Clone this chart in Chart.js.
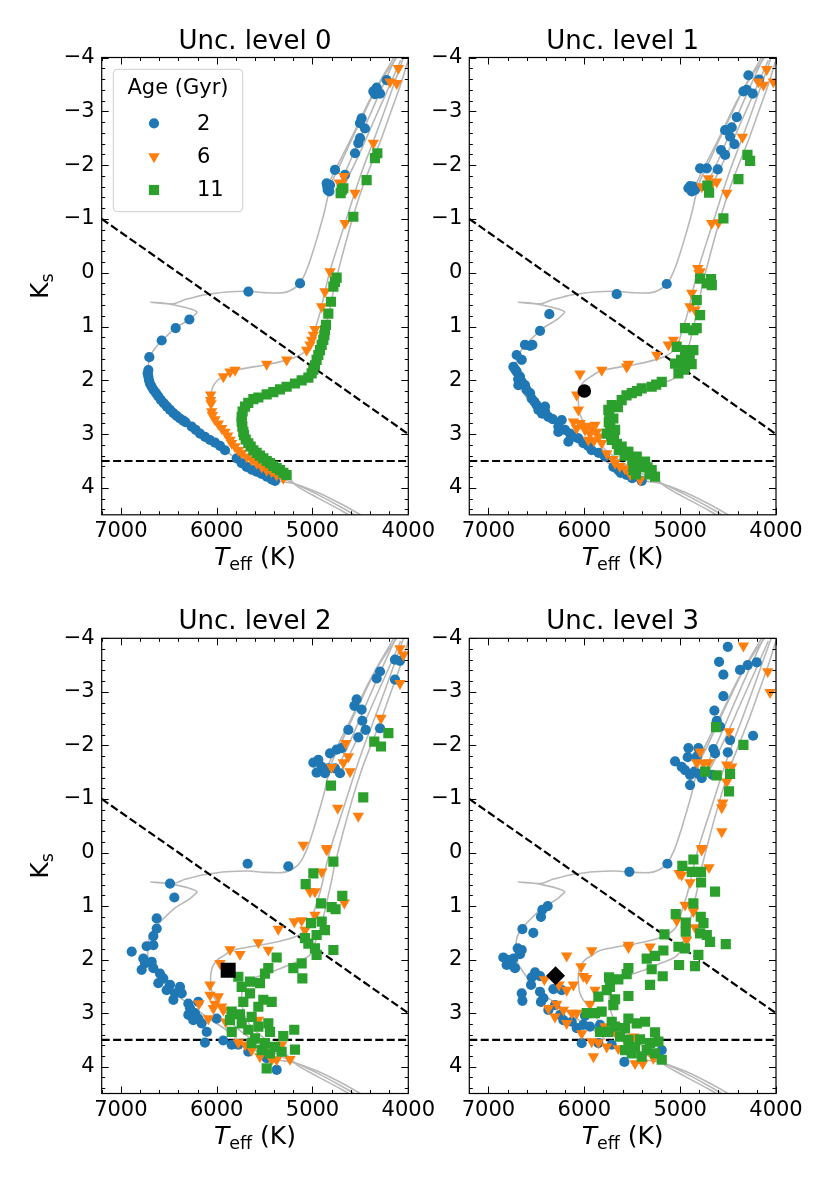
<!doctype html>
<html>
<head>
<meta charset="utf-8">
<title>Unc. levels - Ks vs Teff</title>
<style>
  html, body { margin: 0; padding: 0; background: #fff; }
  body { width: 830px; height: 1186px; position: relative; overflow: hidden; }
  canvas { position: absolute; }
</style>
<script src="https://cdn.jsdelivr.net/npm/chart.js@4.4.1/dist/chart.umd.min.js"></script>
</head>
<body>
<canvas id="c0" width="445" height="590" style="left:0px;top:0px"></canvas>
<canvas id="c1" width="415" height="590" style="left:415px;top:0px"></canvas>
<canvas id="c2" width="445" height="596" style="left:0px;top:590px"></canvas>
<canvas id="c3" width="415" height="596" style="left:415px;top:590px"></canvas>
<script>
// ---- data ----
const TITLES = ['Unc. level 0', 'Unc. level 1', 'Unc. level 2', 'Unc. level 3'];
const AGES = ['2', '6', '11'];
const X_TICKS = [7000, 6000, 5000, 4000];
const Y_TICKS = [-4, -3, -2, -1, 0, 1, 2, 3, 4];

// dashed guide lines [Teff, Ks]
const DIAG_LINE = [[7200, -1], [4000, 3]];
const MAG_CUT = [[7200, 3.5], [4000, 3.5]];

// isochrones (grey)
const ISO_2 = [[4450,4.55],[4700,4.30],[4950,4.08],[5200,3.92],[5390,3.86],[5530,3.75],[5640,3.66],[5740,3.55],[5800,3.46],[5910,3.30],[6070,3.11],[6220,2.92],[6330,2.78],[6420,2.66],[6520,2.49],[6610,2.30],[6660,2.17],[6700,2.05],[6720,1.90],[6715,1.75],[6700,1.57],[6640,1.40],[6570,1.26],[6430,1.03],[6330,0.92],[6285,0.87],[6240,0.80],[6205,0.73],[6300,0.66],[6440,0.60],[6560,0.565],[6690,0.55],[6560,0.57],[6440,0.575],[6330,0.50],[6200,0.44],[6120,0.41],[5900,0.36],[5670,0.345],[5500,0.37],[5320,0.375],[5230,0.33],[5150,0.23],[5100,0.10],[5050,-0.10],[4990,-0.42],[4935,-0.75],[4880,-1.10],[4835,-1.45],[4790,-1.72],[4713,-2.00],[4600,-2.44],[4470,-2.93],[4350,-3.37],[4230,-3.72],[4080,-4.1]];
const ISO_2_AGB = [[4850,-1.58],[4780,-1.85],[4680,-2.2],[4560,-2.63],[4440,-3.08],[4320,-3.48],[4200,-3.85],[4120,-4.1]];
const ISO_6 = [[4450,4.62],[4700,4.36],[4950,4.12],[5150,3.95],[5300,3.83],[5430,3.70],[5530,3.61],[5640,3.48],[5740,3.35],[5810,3.24],[5860,3.12],[5910,2.97],[5970,2.85],[6020,2.73],[6050,2.60],[6060,2.45],[6063,2.30],[6040,2.12],[5990,2.00],[5930,1.93],[5860,1.85],[5800,1.81],[5650,1.76],[5480,1.71],[5270,1.625],[5150,1.55],[5070,1.45],[5030,1.35],[5000,1.20],[4975,1.05],[4935,0.83],[4905,0.63],[4870,0.35],[4820,-0.02],[4740,-0.48],[4660,-0.92],[4560,-1.48],[4470,-1.95],[4370,-2.42],[4260,-2.95],[4160,-3.45],[4050,-4.0]];
const ISO_6_AGB = [[4720,-1.65],[4650,-1.9],[4540,-2.35],[4420,-2.85],[4290,-3.38],[4170,-3.85],[4120,-4.05]];
const ISO_11 = [[4450,4.68],[4700,4.42],[4950,4.18],[5150,3.98],[5270,3.78],[5340,3.67],[5410,3.59],[5480,3.50],[5550,3.40],[5620,3.30],[5670,3.17],[5710,3.04],[5730,2.90],[5740,2.75],[5735,2.60],[5710,2.50],[5670,2.42],[5590,2.33],[5480,2.26],[5340,2.17],[5190,2.06],[5080,1.98],[5020,1.90],[4990,1.78],[4960,1.62],[4930,1.47],[4900,1.30],[4875,1.12],[4855,0.96],[4830,0.76],[4800,0.52],[4775,0.28],[4750,0.10],[4680,-0.38],[4580,-1.02],[4480,-1.58],[4390,-2.0],[4280,-2.5],[4180,-3.0],[4080,-3.5],[4000,-3.95]];
const ISO_11_AGB = [[4700,-1.52],[4620,-1.8],[4500,-2.25],[4360,-2.82],[4220,-3.38],[4080,-3.95]];

// level 0
const BLUE_0 = [[5391,3.87],[5426,3.84],[5478,3.79],[5530,3.74],[5583,3.70],[5635,3.66],[5687,3.61],[5739,3.54],[5791,3.45],[5913,3.30],[5965,3.22],[6017,3.16],[6070,3.11],[6122,3.05],[6174,2.99],[6219,2.92],[6261,2.86],[6324,2.78],[6348,2.75],[6383,2.71],[6418,2.66],[6452,2.61],[6487,2.55],[6519,2.49],[6550,2.43],[6581,2.37],[6609,2.30],[6633,2.24],[6658,2.18],[6678,2.12],[6696,2.06],[6706,2.00],[6713,1.93],[6720,1.87],[6713,1.81],[6703,1.57],[6574,1.26],[6428,1.03],[6285,0.87],[5669,0.35],[5130,0.20],[4852,-1.66],[4845,-1.60],[4835,-1.57],[4824,-1.51],[4842,-1.54],[4817,-1.63],[4765,-1.91],[4661,-1.82],[4556,-2.22],[4522,-2.41],[4504,-2.50],[4487,-2.87],[4452,-2.68],[4504,-2.78],[4365,-3.37],[4348,-3.32],[4295,-3.33],[4330,-3.44],[4226,-3.58]];
const ORANGE_0 = [[5304,3.82],[5374,3.76],[5426,3.70],[5478,3.67],[5530,3.61],[5583,3.54],[5635,3.48],[5687,3.42],[5739,3.35],[5774,3.30],[5809,3.23],[5844,3.17],[5861,3.11],[5885,3.03],[5913,2.96],[5948,2.89],[5983,2.81],[6018,2.73],[6045,2.65],[6052,2.58],[6059,2.43],[6063,2.37],[6063,2.27],[5930,1.93],[5861,1.84],[5809,1.81],[5478,1.70],[5269,1.62],[5061,1.44],[5026,1.34],[5009,1.25],[4991,1.16],[4974,1.05],[4904,0.63],[4870,0.35],[4817,-0.02],[4661,-0.92],[4556,-1.48],[4671,-1.79],[4695,-1.66],[4720,-1.67],[4365,-2.41],[4191,-3.55],[4121,-3.52],[4104,-3.80]];
const GREEN_0 = [[5270,3.76],[5304,3.72],[5339,3.67],[5374,3.63],[5409,3.59],[5443,3.54],[5478,3.50],[5513,3.45],[5548,3.40],[5583,3.35],[5617,3.30],[5645,3.23],[5670,3.17],[5697,3.10],[5715,3.02],[5722,2.96],[5732,2.86],[5739,2.77],[5739,2.68],[5729,2.58],[5704,2.49],[5670,2.42],[5617,2.35],[5565,2.32],[5478,2.26],[5409,2.22],[5339,2.17],[5270,2.12],[5183,2.06],[5113,2.00],[5043,1.95],[5009,1.87],[4991,1.80],[4974,1.72],[4957,1.62],[4939,1.53],[4922,1.44],[4904,1.34],[4887,1.25],[4876,1.16],[4870,1.07],[4859,0.97],[4835,0.76],[4807,0.54],[4782,0.26],[4765,0.17],[4748,0.09],[4574,-1.04],[4435,-1.72],[4348,-2.13],[4323,-2.22],[4695,-1.54],[4678,-1.57],[4706,-1.48]];

// level 1
const BLUE_1 = [[5140,0.21],[5662,0.40],[6365,0.77],[6462,1.08],[6619,1.34],[6566,1.36],[6542,1.34],[6706,1.53],[6653,1.62],[6740,1.75],[6706,1.84],[6671,1.93],[6653,2.03],[6688,2.09],[6619,2.09],[6566,2.24],[6549,2.34],[6497,2.46],[6410,2.49],[6410,2.58],[6375,2.68],[6479,2.55],[6236,2.74],[6271,2.86],[6201,2.92],[6149,2.99],[6271,2.96],[6166,3.14],[6062,3.08],[6010,3.17],[5923,3.30],[5784,3.42],[5697,3.61],[5645,3.67],[5558,3.76],[5471,3.79],[5401,3.87],[5523,3.70],[6720,1.80],[6690,1.98],[6600,2.18],[6520,2.40],[6440,2.62],[6330,2.72],[6100,3.05],[5960,3.22],[5850,3.35],[5620,3.72],[5500,3.82],[4288,-3.67],[4176,-3.59],[4340,-3.37],[4305,-3.40],[4243,-3.33],[4409,-2.89],[4531,-2.65],[4462,-2.70],[4479,-2.53],[4434,-2.39],[4573,-2.28],[4531,-2.19],[4792,-1.94],[4722,-1.94],[4608,-1.92],[4914,-1.57],[4862,-1.60],[4879,-1.51],[4844,-1.54],[4896,-1.61]];
const ORANGE_1 = [[6045,1.88],[5818,1.81],[5540,1.70],[5558,1.75],[5244,1.53],[5071,1.25],[5053,1.33],[5123,1.34],[4879,0.38],[4897,0.63],[4845,0.69],[4792,-0.02],[6080,2.27],[6062,2.55],[6114,2.77],[6045,2.80],[6080,2.89],[5975,2.86],[5888,2.83],[5940,2.99],[5871,2.96],[5958,3.11],[5818,3.17],[5766,3.36],[5679,3.54],[5575,3.64],[5418,3.85],[5992,2.92],[6000,2.85],[5920,2.90],[5850,3.05],[5900,3.12],[5700,3.47],[5630,3.60],[5520,3.75],[4097,-3.78],[4183,-3.55],[4131,-3.49],[4027,-3.55],[4350,-2.52],[4705,-1.75],[4775,-1.60],[4671,-1.65],[4618,-1.69],[4514,-1.48],[4671,-0.92],[4601,-0.93],[4816,-0.08],[4803,0.01]];
const GREEN_1 = [[4723,0.20],[4670,0.23],[4827,0.51],[4792,0.79],[4949,1.03],[4862,1.07],[4827,1.03],[5036,1.38],[4949,1.44],[4862,1.44],[5053,1.69],[4949,1.75],[4914,1.62],[5018,1.87],[5192,2.03],[5297,2.12],[5401,2.15],[5505,2.24],[5610,2.37],[5714,2.46],[5749,2.55],[5697,2.71],[5766,2.99],[5679,2.92],[5714,3.11],[5610,3.23],[5540,3.33],[5453,3.42],[5366,3.51],[5401,3.61],[5297,3.67],[5262,3.79],[5488,3.67],[5558,3.33],[5740,2.62],[5745,2.78],[5730,2.88],[5720,3.02],[5690,3.05],[5660,3.18],[5640,3.30],[5580,3.40],[5500,3.48],[5430,3.56],[5340,3.62],[5320,3.75],[5460,3.75],[5650,2.50],[5560,2.28],[5450,2.20],[5250,2.08],[4990,1.62],[4960,1.80],[4900,1.55],[4880,1.70],[4792,0.11],[4677,0.12],[4549,-1.01],[4392,-1.74],[4298,-2.19],[4270,-2.08],[4716,-1.62],[4698,-1.49]];

// level 2
const BLUE_2 = [[5677,0.21],[5252,0.26],[6487,0.58],[6442,0.84],[6626,1.23],[6626,1.42],[6661,1.56],[6731,1.75],[6661,1.73],[6887,1.85],[6766,1.98],[6748,2.07],[6678,2.04],[6661,2.16],[6783,2.19],[6592,2.26],[6557,2.35],[6609,2.44],[6487,2.47],[6522,2.57],[6383,2.51],[6435,2.63],[6365,2.63],[6452,2.75],[6296,2.82],[6278,2.91],[6296,3.03],[6226,3.00],[6244,3.13],[6192,3.10],[6157,3.19],[6192,2.79],[6104,3.35],[6122,3.55],[5931,3.51],[5843,3.59],[5774,3.59],[5670,3.72],[5478,3.84],[5374,4.06],[6000,3.10],[4139,-3.60],[4087,-3.58],[4295,-3.38],[4330,-3.25],[4139,-3.23],[4539,-2.86],[4563,-2.74],[4487,-2.67],[4480,-2.46],[4445,-2.29],[4626,-2.29],[4295,-2.32],[4522,-2.15],[4696,-1.95],[4748,-1.92],[4817,-1.85],[4991,-1.68],[4939,-1.73],[4904,-1.60],[4835,-1.57],[4957,-1.49],[4870,-1.48],[4765,-1.57],[4713,-1.48]];
const ORANGE_2 = [[4852,-0.05],[4904,0.36],[5026,0.73],[4974,0.73],[4668,0.94],[4974,1.17],[5113,1.27],[5190,1.29],[5078,1.45],[5357,1.43],[5565,1.68],[5461,1.82],[5861,1.81],[5757,1.90],[5965,2.07],[6070,2.47],[6070,2.66],[5983,2.69],[5931,2.94],[6018,2.83],[6035,2.91],[6087,3.10],[6184,2.82],[5906,3.16],[5565,3.13],[5774,3.55],[5704,3.59],[5635,3.69],[5548,3.81],[5426,3.87],[5322,3.59],[5235,3.86],[5374,3.87],[5948,2.88],[4087,-3.81],[4052,-3.69],[4087,-3.16],[4285,-2.51],[4654,-2.04],[4626,-1.79],[4678,-1.68],[4800,-1.59],[4609,-1.51],[4737,-0.83],[4522,-0.68],[5096,-0.14],[4852,-0.08]];
const GREEN_2 = [[4782,0.17],[4991,0.39],[5071,0.59],[4689,0.81],[4911,0.95],[4800,1.02],[4759,1.06],[5016,1.32],[4904,1.29],[5078,1.60],[4957,1.54],[4870,1.45],[4782,1.82],[4974,1.79],[4957,1.91],[5043,1.70],[5374,1.96],[5200,2.16],[5113,2.07],[5106,2.35],[5461,2.16],[5496,2.26],[5548,2.44],[5652,2.41],[5774,2.32],[5739,2.51],[5652,2.63],[5722,2.79],[5513,2.75],[5426,2.79],[5565,2.88],[5843,2.97],[5757,3.02],[5635,3.07],[5861,3.13],[5739,3.19],[5670,3.31],[5565,3.25],[5461,3.19],[5443,3.35],[5843,3.35],[5305,3.43],[5190,3.31],[5600,3.47],[5496,3.56],[5635,3.56],[5391,3.63],[5530,3.69],[5322,3.72],[5183,3.68],[5478,4.03],[5443,3.75],[4208,-2.23],[4355,-2.07],[4285,-1.98],[4807,-1.25],[4470,-1.03]];

// level 3
const BLUE_3 = [[5133,0.21],[5530,0.36],[6382,1.00],[6438,1.07],[6452,1.20],[6646,1.43],[6532,1.50],[6695,1.79],[6653,1.82],[6671,1.90],[6845,1.96],[6793,2.01],[6740,1.98],[6758,2.10],[6723,2.16],[6810,2.10],[6514,2.24],[6549,2.33],[6462,2.31],[6556,2.47],[6462,2.60],[6653,2.63],[6646,2.77],[6427,2.72],[6452,2.79],[6323,2.55],[6236,2.57],[6375,2.94],[6306,2.85],[6253,3.03],[6218,3.13],[6131,3.16],[6079,3.28],[6010,3.22],[5940,3.25],[6027,3.56],[5853,3.56],[5836,3.22],[5714,3.59],[5582,3.91],[5540,3.69],[5192,3.69],[5993,3.05],[4503,-3.84],[4594,-3.56],[4549,-3.32],[4375,-3.41],[4295,-3.50],[4201,-3.55],[4549,-2.92],[4643,-2.65],[4618,-2.46],[4584,-2.35],[4479,-2.10],[4239,-2.18],[4503,-1.87],[4914,-1.95],[4810,-1.95],[4921,-1.78],[4827,-1.79],[4653,-1.93],[4636,-1.85],[5053,-1.70],[4984,-1.60],[4949,-1.54],[4897,-1.45],[4897,-1.26],[4810,-1.47],[4775,-1.39],[4664,-1.45],[4851,-1.51]];
const ORANGE_3 = [[4775,-0.05],[4699,0.28],[5011,0.39],[4984,0.42],[4897,0.56],[4949,0.98],[4862,1.10],[5036,1.27],[4845,1.40],[4932,1.63],[5540,1.73],[5540,1.77],[5314,1.76],[5923,1.83],[6184,1.93],[6034,2.13],[6010,2.31],[5975,2.35],[6114,2.47],[6184,2.57],[6264,2.47],[6417,2.37],[5888,2.57],[5940,2.83],[6375,2.91],[6288,2.83],[6218,2.94],[6131,3.00],[6079,3.00],[6306,3.07],[6184,3.19],[6027,3.38],[5923,3.53],[5853,3.55],[5766,3.63],[5645,3.66],[5784,3.25],[5905,3.81],[5471,3.94],[5391,3.94],[5279,3.84],[5488,3.44],[5679,3.35],[4340,-3.86],[4086,-3.38],[4062,-2.99],[4490,-2.26],[4792,-1.88],[4827,-1.68],[4757,-1.67],[4705,-1.68],[4514,-1.64],[4462,-1.60],[4514,-1.32],[4556,-0.93],[4566,-0.84],[4566,-0.39],[4775,-0.08]];
const GREEN_3 = [[4862,0.13],[4977,0.25],[4879,0.36],[4782,0.36],[4782,0.56],[4636,0.73],[4862,0.95],[5046,1.15],[4942,1.31],[4942,1.48],[4785,1.20],[4757,1.32],[4792,1.51],[4722,1.54],[4688,1.67],[4524,1.71],[5164,1.53],[5018,1.76],[4949,1.79],[4810,1.91],[4845,2.12],[5011,2.10],[5175,1.83],[5262,1.93],[5349,1.98],[5297,2.18],[5182,2.31],[5314,2.47],[5540,2.16],[5558,2.27],[5645,2.37],[5742,2.33],[5732,2.51],[5766,2.57],[5853,2.69],[5679,2.74],[5540,2.68],[5697,2.85],[5975,3.00],[5888,3.00],[5819,2.97],[5714,3.16],[5540,3.10],[5453,3.19],[5366,3.16],[5679,3.25],[5575,3.28],[5836,3.35],[5749,3.35],[5262,3.36],[5627,3.44],[5540,3.50],[5418,3.49],[5314,3.56],[5227,3.53],[5471,3.63],[5349,3.69],[5505,3.75],[5401,3.81],[5262,3.75],[5192,3.87],[5575,3.69],[4625,-2.34],[4340,-2.01],[4740,-1.51],[4618,-1.44],[4479,-1.47],[4490,-1.14]];

// reference star per level [Teff, Ks]
const STAR_1 = [[6000, 2.2]];
const STAR_2 = [[5880, 2.2]];
const STAR_3 = [[6300, 2.3]];

// ---- styles ----
const BLUE = '#1f77b4', ORANGE = '#ff7f0e', GREEN = '#2ca02c', GREY = '#b8b8b8';
const FONT = "'DejaVu Sans', sans-serif";
Chart.defaults.font.family = FONT;
Chart.defaults.color = '#000';

const pts = arr => arr.map(([x, y]) => ({x, y}));
const fmtMinus = v => (v < 0 ? '\u2212' + Math.abs(v) : String(v));

const drawMarker = (ctx, o, x, y) => {
  if (Chart.helpers && Chart.helpers.drawPoint) { Chart.helpers.drawPoint(ctx, o, x, y); return; }
  ctx.beginPath(); ctx.arc(x, y, o.radius, 0, Math.PI * 2); ctx.fill();
};

const framePlugin = {
  id: 'frame',
  afterDraw(chart, args, opts) {
    const {ctx, chartArea: a} = chart;
    const xs = chart.scales.x, ys = chart.scales.y;
    ctx.save();
    // inward ticks on all four sides
    ctx.strokeStyle = '#000';
    ctx.lineWidth = 1;
    ctx.beginPath();
    const xt = (v, len) => {
      const p = Math.round(xs.getPixelForValue(v)) + 0.5;
      ctx.moveTo(p, a.bottom); ctx.lineTo(p, a.bottom - len);
      ctx.moveTo(p, a.top); ctx.lineTo(p, a.top + len);
    };
    const yt = (v, len) => {
      const p = Math.round(ys.getPixelForValue(v)) + 0.5;
      ctx.moveTo(a.left, p); ctx.lineTo(a.left + len, p);
      ctx.moveTo(a.right, p); ctx.lineTo(a.right - len, p);
    };
    for (let v = 4000; v <= 7200; v += 200) xt(v, X_TICKS.includes(v) ? 7 : 3.5);
    for (let k = -40; k <= 44; k += 2) { const v = k / 10; yt(v, Y_TICKS.includes(v) ? 7 : 3.5); }
    ctx.stroke();
    ctx.lineWidth = 1.2;
    ctx.strokeRect(a.left, a.top, a.right - a.left, a.bottom - a.top);

    ctx.fillStyle = '#000';
    ctx.textBaseline = 'alphabetic';
    // title
    ctx.font = '26px ' + FONT;
    ctx.textAlign = 'center';
    ctx.fillText(opts.title, (a.left + a.right) / 2, a.top - 9);

    // x label: T_eff (K)
    ctx.textAlign = 'left';
    const big = '25px ' + FONT, small = '17.5px ' + FONT, ital = 'italic 25px ' + FONT;
    ctx.font = ital; const wT = ctx.measureText('T').width;
    ctx.font = small; const wS = ctx.measureText('eff').width;
    ctx.font = big; const wK = ctx.measureText(' (K)').width;
    let x0 = (a.left + a.right) / 2 - (wT + wS + wK) / 2;
    const yb = a.bottom + 50;
    ctx.font = ital; ctx.fillText('T', x0, yb);
    ctx.font = small; ctx.fillText('eff', x0 + wT, yb + 5);
    ctx.font = big; ctx.fillText(' (K)', x0 + wT + wS, yb);

    // y label: K_s
    if (opts.ylabel) {
      ctx.save();
      ctx.translate(a.left - 54, (a.top + a.bottom) / 2);
      ctx.rotate(-Math.PI / 2);
      ctx.font = big; const wk = ctx.measureText('K').width;
      ctx.font = small; const ws = ctx.measureText('s').width;
      const s0 = -(wk + ws) / 2;
      ctx.font = big; ctx.fillText('K', s0, 0);
      ctx.font = small; ctx.fillText('s', s0 + wk, 5);
      ctx.restore();
    }

    // legend
    if (opts.legend) {
      const bx = a.left + 11.6, by = a.top + 11.8, bw = 129.4, bh = 142.4;
      ctx.beginPath();
      ctx.roundRect(bx, by, bw, bh, 4);
      ctx.fillStyle = 'rgba(255,255,255,0.8)';
      ctx.fill();
      ctx.strokeStyle = '#cccccc';
      ctx.lineWidth = 1;
      ctx.stroke();
      ctx.fillStyle = '#000';
      ctx.font = '21px ' + FONT;
      ctx.textAlign = 'center';
      ctx.textBaseline = 'middle';
      ctx.fillText('Age (Gyr)', bx + bw / 2, a.top + 31);
      ctx.textAlign = 'left';
      const sets = chart.data.datasets.filter(d => AGES.includes(d.label));
      sets.forEach((d, i) => {
        const cy = a.top + 65.8 + i * 33.35;
        ctx.fillStyle = d.backgroundColor;
        drawMarker(ctx, {pointStyle: d.pointStyle, rotation: d.pointRotation || 0, radius: d.pointRadius, borderWidth: 0}, a.left + 52.3, cy);
        ctx.fillStyle = '#000';
        ctx.fillText(d.label, a.left + 95.3, cy + 1);
      });
    }
    ctx.restore();
  }
};

const PANELS = [
  {id: 'c0', title: TITLES[0], sets: [BLUE_0, ORANGE_0, GREEN_0], star: null, starStyle: null, ylabel: true, legend: true, yW: 60, area: [101.7, 57.5, 408.3, 514.8]},
  {id: 'c1', title: TITLES[1], sets: [BLUE_1, ORANGE_1, GREEN_1], star: STAR_1, starStyle: ['circle', 6.8], ylabel: false, legend: false, yW: 50, area: [54.3, 57.5, 361, 514.8]},
  {id: 'c2', title: TITLES[2], sets: [BLUE_2, ORANGE_2, GREEN_2], star: STAR_2, starStyle: ['rect', 10.6], ylabel: true, legend: false, yW: 60, area: [101.7, 48.3, 408.3, 503.5]},
  {id: 'c3', title: TITLES[3], sets: [BLUE_3, ORANGE_3, GREEN_3], star: STAR_3, starStyle: ['rectRot', 9.5], ylabel: false, legend: false, yW: 50, area: [54.3, 48.3, 361, 503.5]}
];

const ISOS = [ISO_2, ISO_2_AGB, ISO_6, ISO_6_AGB, ISO_11, ISO_11_AGB];
const MARKERS = [
  {color: BLUE, style: 'circle', radius: 5.1, rot: 0, order: 3},
  {color: ORANGE, style: 'triangle', radius: 6.6, rot: 180, order: 2},
  {color: GREEN, style: 'rect', radius: 7.2, rot: 0, order: 1}
];
const XH = 40;

PANELS.forEach(p => {
  const canvas = document.getElementById(p.id);
  const W = canvas.width, H = canvas.height;
  const [aL, aT, aR, aB] = p.area;
  const datasets = [];
  ISOS.forEach(iso => datasets.push({
    data: pts(iso), showLine: true, borderColor: GREY, borderWidth: 1.6,
    pointRadius: 0, tension: 0.3, order: 10
  }));
  [DIAG_LINE, MAG_CUT].forEach(l => datasets.push({
    data: pts(l), showLine: true, borderColor: '#000', borderWidth: 2.2,
    borderDash: [8, 3.4], pointRadius: 0, order: 9
  }));
  p.sets.forEach((s, i) => {
    const m = MARKERS[i];
    datasets.push({
      label: AGES[i], data: pts(s), backgroundColor: m.color, borderColor: m.color,
      pointStyle: m.style, pointRadius: m.radius, pointRotation: m.rot,
      pointBorderWidth: 0, order: m.order
    });
  });
  if (p.star) datasets.push({
    data: pts(p.star), backgroundColor: '#000', borderColor: '#000',
    pointStyle: p.starStyle[0], pointRadius: p.starStyle[1], pointBorderWidth: 0, order: 0
  });

  new Chart(canvas, {
    type: 'scatter',
    data: {datasets},
    options: {
      responsive: false,
      animation: false,
      devicePixelRatio: 1,
      events: [],
      layout: {padding: {left: aL - p.yW, top: aT, right: W - aR, bottom: H - aB - XH}},
      plugins: {
        legend: {display: false},
        tooltip: {enabled: false},
        frame: {title: p.title, ylabel: p.ylabel, legend: p.legend}
      },
      scales: {
        x: {
          type: 'linear', min: 4000, max: 7200, reverse: true,
          grid: {display: false, drawTicks: false}, border: {display: false},
          ticks: {font: {size: 21}, padding: 4, maxRotation: 0, callback: v => String(v)},
          afterBuildTicks: s => { s.ticks = X_TICKS.map(v => ({value: v})); },
          afterFit: s => { s.height = XH; }
        },
        y: {
          type: 'linear', min: -4, max: 4.5, reverse: true,
          grid: {display: false, drawTicks: false}, border: {display: false},
          ticks: {font: {size: 21}, padding: 7, callback: v => fmtMinus(v)},
          afterBuildTicks: s => { s.ticks = Y_TICKS.map(v => ({value: v})); },
          afterFit: s => { s.width = p.yW; }
        }
      }
    },
    plugins: [framePlugin]
  });
});
</script>
</body>
</html>
